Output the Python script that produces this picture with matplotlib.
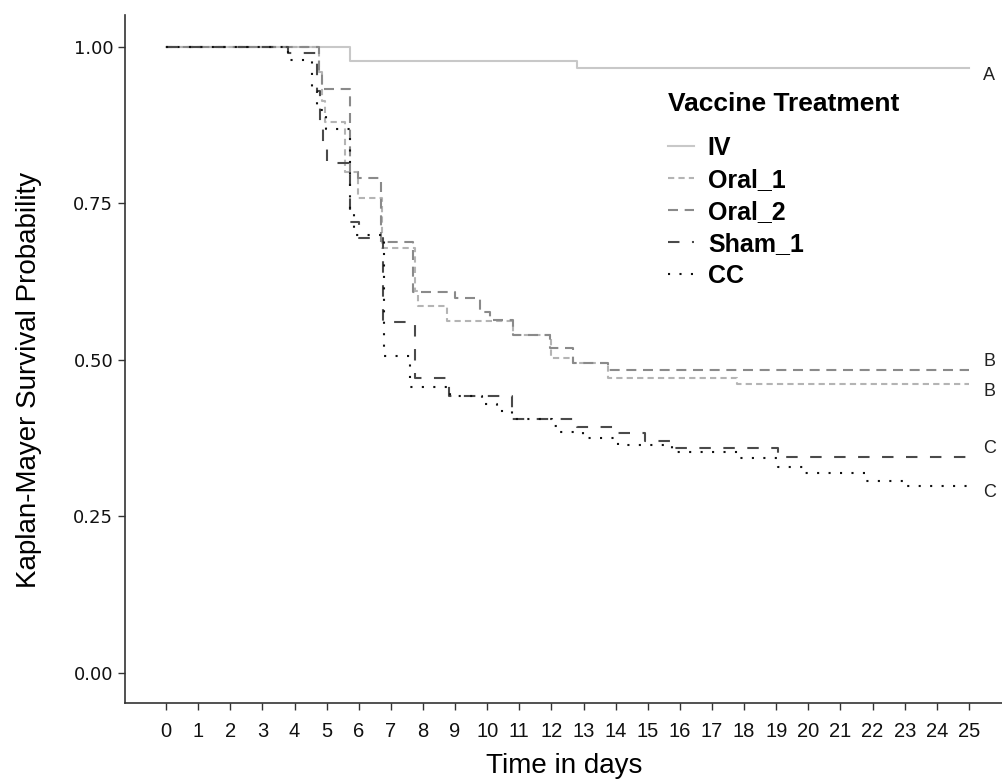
import numpy as np
import matplotlib
matplotlib.use("Agg")
import matplotlib.pyplot as plt

# Kaplan-Meier step curves (event time in days, survival after the event)
iv_t = [0, 5.73, 12.8, 25]
iv_s = [1.0, 0.978, 0.966, 0.966]

oral1_t = [0, 4.75, 4.85, 4.95, 5.57, 5.98, 6.72, 7.75, 7.85, 8.75, 10.8, 11.98, 12.67, 13.76, 17.78, 25]
oral1_s = [1.0, 0.96, 0.914, 0.88, 0.80, 0.759, 0.679, 0.61, 0.586, 0.562, 0.54, 0.503, 0.495, 0.471, 0.462, 0.462]

oral2_t = [0, 4.75, 4.85, 5.73, 5.98, 6.69, 7.69, 9.0, 9.78, 10.1, 10.8, 11.96, 12.67, 13.76, 25]
oral2_s = [1.0, 0.96, 0.933, 0.80, 0.791, 0.689, 0.609, 0.599, 0.577, 0.564, 0.54, 0.519, 0.495, 0.484, 0.484]

sham1_t = [0, 3.8, 4.7, 4.8, 4.9, 5.0, 5.73, 6.0, 6.75, 7.75, 8.8, 10.77, 12.8, 14.07, 14.91, 15.75, 19.05, 25]
sham1_s = [1.0, 0.99, 0.93, 0.88, 0.84, 0.815, 0.72, 0.695, 0.561, 0.471, 0.442, 0.406, 0.393, 0.383, 0.371, 0.359, 0.345, 0.345]

cc_t = [0, 3.8, 4.55, 4.7, 4.98, 5.73, 5.85, 6.8, 7.6, 8.84, 9.84, 10.3, 10.77, 12.02, 12.17, 12.98, 14.07, 15.75, 17.87, 19.05, 19.89, 21.76, 23.01, 25]
cc_s = [1.0, 0.979, 0.93, 0.899, 0.869, 0.735, 0.70, 0.506, 0.457, 0.442, 0.430, 0.419, 0.406, 0.395, 0.385, 0.375, 0.364, 0.353, 0.343, 0.329, 0.319, 0.307, 0.299, 0.299]

groups = ["IV", "Oral_1", "Oral_2", "Sham_1", "CC"]
letters = ["A", "B", "B", "C", "C"]
letter_off = [-0.012, -0.013, 0.013, 0.013, -0.011]

curves = [(iv_t, iv_s), (oral1_t, oral1_s), (oral2_t, oral2_s), (sham1_t, sham1_s), (cc_t, cc_s)]
colors = ["#c8c8c8", "#b4b4b4", "#8a8a8a", "#4a4a4a", "#111111"]
dashes = [None, (3, 2), (4.8, 3.2), (5.5, 6), (1, 4.5)]

fig = plt.figure(figsize=(10.03, 7.81), dpi=100)
ax = fig.add_axes([0.1246, 0.0999, 0.8754, 0.8809])

for (t, s), g, c, d in zip(curves, groups, colors, dashes):
    line, = ax.step(t, s, where="post", color=c, lw=1.5, label=g)
    if d is not None:
        line.set_dashes(d)

for (t, s), lab, off in zip(curves, letters, letter_off):
    ax.text(25.45, s[-1] + off, lab, fontsize=13, color="#222222", va="center", ha="left",
            family="Liberation Sans")

ax.set_xlim(-1.28, 26.06)
ax.set_ylim(-0.048, 1.051)
ax.set_xticks(np.arange(0, 26))
ax.set_yticks([0, 0.25, 0.5, 0.75, 1.0])
ax.set_yticklabels(["0.00", "0.25", "0.50", "0.75", "1.00"], fontsize=13)
for lbl in ax.get_xticklabels():
    lbl.set_family("Liberation Sans")
    lbl.set_fontsize(14.5)
ax.tick_params(axis="both", direction="out", length=5, width=1, color="#333333", labelcolor="#111111")
ax.tick_params(axis="x", pad=9)

for side in ["top", "right"]:
    ax.spines[side].set_visible(False)
for side in ["left", "bottom"]:
    ax.spines[side].set_color("#333333")
    ax.spines[side].set_linewidth(1.2)

ax.set_xlabel("Time in days", fontsize=20, family="Liberation Sans", labelpad=8)
ax.set_ylabel("Kaplan-Mayer Survival Probability", fontsize=20, family="Liberation Sans")
ax.yaxis.set_label_coords(-0.094, 0.47)

leg = ax.legend(loc="upper left", bbox_to_anchor=(0.604, 0.906), frameon=False,
                title="Vaccine Treatment", handlelength=1.05, handletextpad=0.55,
                labelspacing=0.32, borderpad=0, alignment="left",
                prop={"family": "Liberation Sans", "weight": "bold", "size": 18},
                title_fontproperties={"family": "Liberation Sans", "weight": "bold", "size": 19})
leg._legend_box.sep = 14

fig.savefig("out.png", dpi=100)
